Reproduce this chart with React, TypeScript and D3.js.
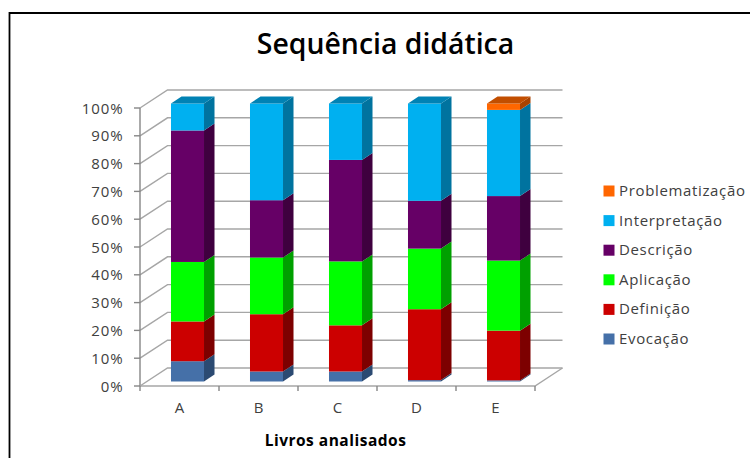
import React from "react";
import * as d3 from "d3";

// Share of each question type per textbook, in percent.
const categories = ["A", "B", "C", "D", "E"];
const evocacao = [7.3, 3.6, 3.6, 0.5, 0.4];
const definicao = [14.3, 20.6, 16.6, 25.5, 17.9];
const aplicacao = [21.4, 20.4, 23.0, 21.8, 25.2];
const descricao = [47.3, 20.6, 36.5, 17.2, 23.2];
const interpretacao = [9.7, 34.8, 20.3, 35.0, 31.0];
const problematizacao = [0, 0, 0, 0, 2.3];

const seriesNames = ["Evocação", "Definição", "Aplicação", "Descrição", "Interpretação", "Problematização"];
const seriesValues = [evocacao, definicao, aplicacao, descricao, interpretacao, problematizacao];
const frontColors = ["#4570a8", "#cc0000", "#00ff00", "#660066", "#00b0f0", "#ff6600"];
const sideColors = ["#2b4a72", "#7d0000", "#00a000", "#3f003f", "#00739f", "#a84300"];
const topColors = ["#365a88", "#a00000", "#00c800", "#500050", "#0082b4", "#c24e00"];
const yTicks = d3.range(0, 101, 10);

const FONT = "'Open Sans', sans-serif";
const WIDTH = 750;
const HEIGHT = 458;

// Oblique projection of the chart box: wall depth and bar depth in pixels.
const DEPTH_X = 27.5;
const DEPTH_Y = 18;
const BAR_DX = 10.5;
const BAR_DY = 7;
const BAR_OFFSET_X = 8;
const BAR_OFFSET_Y = 4.5;

const x = d3.scaleBand<string>().domain(categories).range([140, 535]).paddingInner(0.582).paddingOuter(0.291);
const y = d3.scaleLinear().domain([0, 100]).range([386, 108]);

const rows = categories.map((c, i) => {
  const row: Record<string, number | string> = { category: c };
  seriesNames.forEach((n, s) => (row[n] = seriesValues[s][i]));
  return row;
});
const stacked = d3.stack<any>().keys(seriesNames)(rows);

const poly = (pts: number[][]) => pts.map((p) => p.join(",")).join(" ");

export default function App() {
  const gridColor = "#a6a6a6";
  const tickColor = "#868686";
  const legendY = d3.scalePoint<string>()
    .domain([...seriesNames].reverse())
    .range([191, 339]);

  return (
    <svg
      width={WIDTH}
      height={HEIGHT}
      style={{ position: "absolute", left: 0, top: 0, background: "#fff" }}
      fontFamily={FONT}
    >
      <path d="M9.5 458V13H750" fill="none" stroke="#000" strokeWidth={1.8} />
      <text x={385.5} y={53.5} textAnchor="middle" fontSize={28.4} fontWeight={600} fill="#000">
        Sequência didática
      </text>

      {/* Walls, floor and gridlines */}
      {yTicks.map((t) => (
        <g key={t} stroke={gridColor} strokeWidth={1.4} fill="none">
          <polyline points={poly([[140, y(t)], [140 + DEPTH_X, y(t) - DEPTH_Y], [535 + DEPTH_X, y(t) - DEPTH_Y]])} />
          <line x1={134} x2={140} y1={y(t)} y2={y(t)} stroke={tickColor} />
          <text x={123.5} y={y(t) + 5.5} textAnchor="end" fontSize={15} fill="#404040" stroke="none" letterSpacing={0.9}>
            {t}%
          </text>
        </g>
      ))}
      <line x1={140} x2={140} y1={y(0)} y2={y(100)} stroke={tickColor} strokeWidth={1.4} />
      <polyline points={poly([[140, y(0)], [535, y(0)], [535 + DEPTH_X, y(0) - DEPTH_Y]])} fill="none" stroke={gridColor} strokeWidth={1.4} />
      {[0, 1, 2, 3, 4, 5].map((i) => {
        const tx = 140 + i * x.step();
        return <line key={i} x1={tx} x2={tx} y1={y(0)} y2={y(0) + 5} stroke={tickColor} strokeWidth={1.4} />;
      })}

      {/* Stacked blocks, drawn bottom up so upper faces stay visible */}
      {categories.map((c, ci) => {
        const left = (x(c) as number) + BAR_OFFSET_X;
        const right = left + x.bandwidth();
        return (
          <g key={c}>
            {stacked.map((layer, si) => {
              const [v0, v1] = layer[ci];
              if (v1 - v0 <= 0) return null;
              const y0 = y(v0) - BAR_OFFSET_Y;
              const y1 = y(v1) - BAR_OFFSET_Y;
              const isTop = v1 >= 99.9;
              return (
                <g key={si}>
                  <rect x={left} y={y1} width={right - left} height={y0 - y1} fill={frontColors[si]} />
                  <polygon
                    points={poly([[right, y0], [right + BAR_DX, y0 - BAR_DY], [right + BAR_DX, y1 - BAR_DY], [right, y1]])}
                    fill={sideColors[si]}
                  />
                  {isTop && (
                    <polygon
                      points={poly([[left, y1], [left + BAR_DX, y1 - BAR_DY], [right + BAR_DX, y1 - BAR_DY], [right, y1]])}
                      fill={topColors[si]}
                    />
                  )}
                </g>
              );
            })}
            <text x={(x(c) as number) + x.bandwidth() / 2} y={413} textAnchor="middle" fontSize={15} fill="#404040">
              {c}
            </text>
          </g>
        );
      })}

      <text x={335.5} y={446} textAnchor="middle" fontSize={15.5} letterSpacing={0.5} fontWeight={700} fill="#000">
        Livros analisados
      </text>

      {/* Legend, top entry first */}
      {seriesNames.map((n, si) => (
        <g key={n}>
          <rect x={603.5} y={(legendY(n) as number) - 5.5} width={11} height={11} fill={frontColors[si]} />
          <text x={619} y={(legendY(n) as number) + 5} fontSize={15} letterSpacing={0.65} fill="#404040">
            {n}
          </text>
        </g>
      ))}
    </svg>
  );
}
